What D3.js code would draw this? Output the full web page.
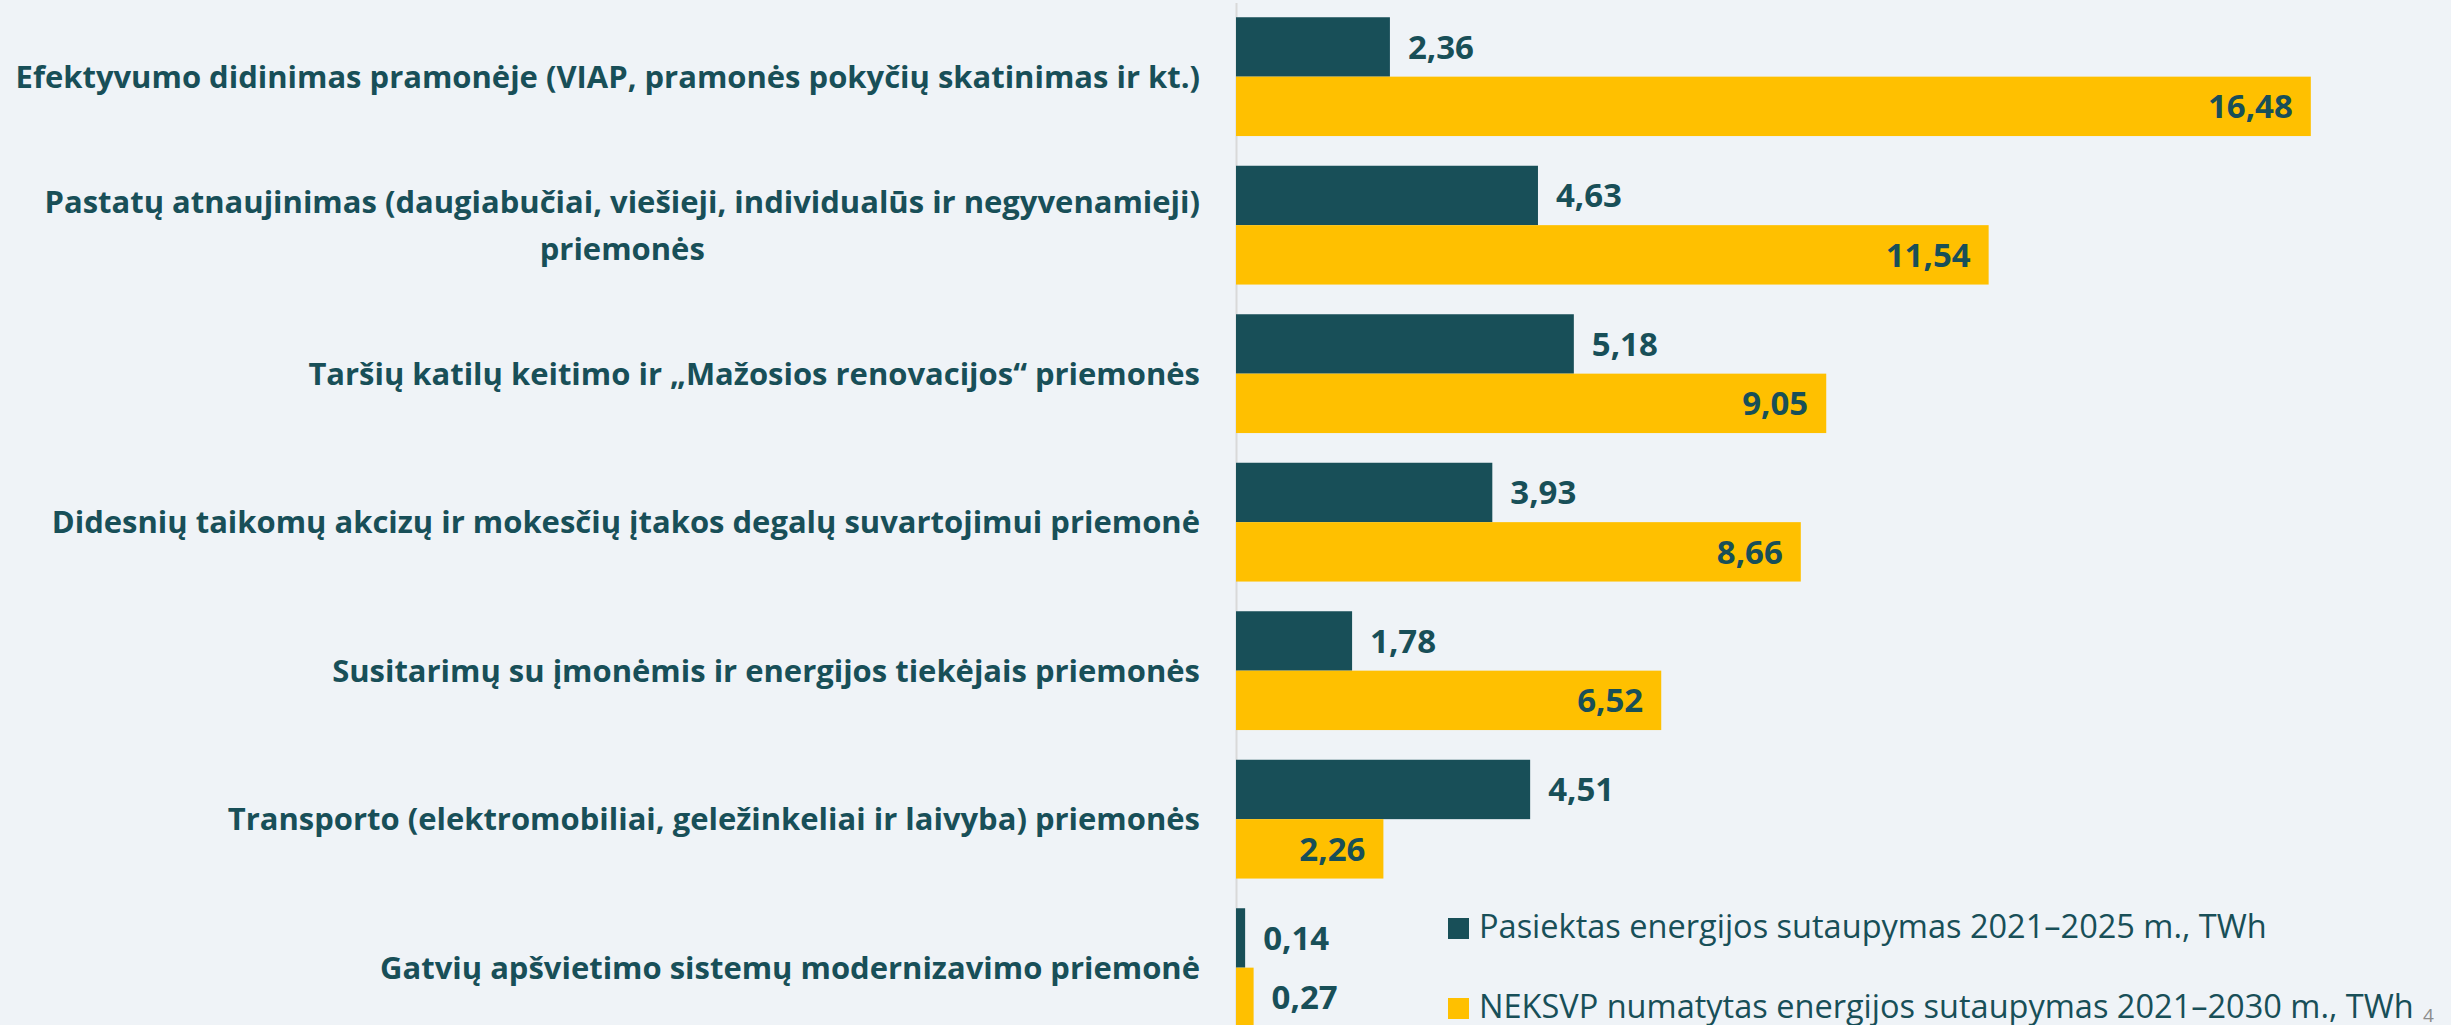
<!DOCTYPE html>
<html lang="lt">
<head>
<meta charset="UTF-8">
<title>Energijos sutaupymas pagal priemones</title>
<script src="https://d3js.org/d3.v7.min.js"></script>
<style>
  body { margin: 0; background: #eff3f7; }
  svg { display: block; }
</style>
</head>
<body>
<svg id="chart" width="2451" height="1025"></svg>
<script>
  // chart data
  const categories = [
    "Efektyvumo didinimas pramonėje (VIAP, pramonės pokyčių skatinimas ir kt.)",
    "Pastatų atnaujinimas (daugiabučiai, viešieji, individualūs ir negyvenamieji)\npriemonės",
    "Taršių katilų keitimo ir „Mažosios renovacijos“ priemonės",
    "Didesnių taikomų akcizų ir mokesčių įtakos degalų suvartojimui priemonė",
    "Susitarimų su įmonėmis ir energijos tiekėjais priemonės",
    "Transporto (elektromobiliai, geležinkeliai ir laivyba) priemonės",
    "Gatvių apšvietimo sistemų modernizavimo priemonė"
  ];
  const achieved = [2.36, 4.63, 5.18, 3.93, 1.78, 4.51, 0.14];
  const planned = [16.48, 11.54, 9.05, 8.66, 6.52, 2.26, 0.27];
  const seriesKeys = ["achieved", "planned"];
  const seriesNames = [
    "Pasiektas energijos sutaupymas 2021–2025 m., TWh",
    "NEKSVP numatytas energijos sutaupymas 2021–2030 m., TWh"
  ];
  const pageNumber = "4";

  const width = 2451, height = 1025;
  const teal = "#184f58", gold = "#ffc000";
  const font = "'Open Sans', 'Noto Sans', sans-serif";
  const colors = d3.scaleOrdinal().domain(seriesKeys).range([teal, gold]);

  const svg = d3.select("#chart");
  svg.append("rect").attr("width", width).attr("height", height).attr("fill", "#eff3f7");

  // fit a font size so a given string reaches a target width
  function fitSize(str, weight, target) {
    const t = svg.append("text").attr("font-family", font).attr("font-weight", weight)
      .attr("font-size", 100).text(str);
    const w = t.node().getComputedTextLength();
    t.remove();
    return 100 * target / w;
  }
  const labelSize = fitSize(categories[0], "bold", 1185);
  const legendSize = fitSize(seriesNames[0], "normal", 788);
  const valueSize = 33;

  const x = d3.scaleLinear().domain([0, 18]).range([1236, 1236 + 18 * 65.22]);
  const y = d3.scaleBand().domain(categories).range([2.4, 1041.9]).paddingInner(0.2).paddingOuter(0.1);
  const ySub = d3.scaleBand().domain(seriesKeys).range([0, y.bandwidth()]);

  const lt = d3.formatLocale({decimal: ",", thousands: " ", grouping: [3], currency: ["", ""]});
  const fmt = lt.format(".2f");

  // category axis line
  svg.append("g")
    .attr("transform", `translate(${x(0)},0)`)
    .call(d3.axisLeft(y).tickSize(0).tickFormat(""))
    .call(g => g.select(".domain").attr("stroke", "#d9d9d9").attr("stroke-width", 2));

  const rows = categories.map((c, i) => ({
    cat: c,
    values: [
      {key: "achieved", v: achieved[i]},
      {key: "planned", v: planned[i]}
    ]
  }));

  const groups = svg.selectAll(".grp").data(rows).enter()
    .append("g").attr("class", "grp")
    .attr("transform", d => `translate(0,${y(d.cat)})`);

  groups.selectAll("rect").data(d => d.values).enter()
    .append("rect")
    .attr("x", x(0))
    .attr("y", d => ySub(d.key))
    .attr("width", d => x(d.v) - x(0))
    .attr("height", ySub.bandwidth())
    .attr("fill", d => colors(d.key));

  // value labels: dark bars outside, yellow bars inside unless too short
  groups.selectAll(".val").data(d => d.values).enter()
    .append("text").attr("class", "val")
    .attr("font-family", font).attr("font-weight", "bold").attr("font-size", valueSize)
    .attr("fill", teal)
    .attr("y", d => ySub(d.key) + ySub.bandwidth() / 2)
    .attr("dy", "0.36em")
    .each(function(d) {
      const inside = d.key === "planned" && x(d.v) - x(0) > 120;
      d3.select(this)
        .attr("x", inside ? x(d.v) - 18 : x(d.v) + 18)
        .attr("text-anchor", inside ? "end" : "start")
        .text(fmt(d.v));
    });

  // category labels, right aligned block, lines centred on each other
  const lineH = labelSize * 1.5;
  groups.each(function(d) {
    const lines = d.cat.split("\n");
    const t = d3.select(this).append("text")
      .attr("font-family", font).attr("font-weight", "bold").attr("font-size", labelSize)
      .attr("fill", teal).attr("text-anchor", "middle");
    lines.forEach((ln, k) => {
      t.append("tspan")
        .attr("y", y.bandwidth() / 2 + (k - (lines.length - 1) / 2) * lineH)
        .attr("dy", "0.36em")
        .text(ln);
    });
    let maxW = 0;
    t.selectAll("tspan").each(function() { maxW = Math.max(maxW, this.getComputedTextLength()); });
    t.selectAll("tspan").attr("x", 1200 - maxW / 2);
  });

  // legend
  const legend = svg.selectAll(".leg").data(seriesKeys).enter()
    .append("g").attr("class", "leg")
    .attr("transform", (d, i) => `translate(1448,${918 + i * 80})`);
  legend.append("rect").attr("width", 21).attr("height", 21).attr("fill", d => colors(d));
  legend.append("text")
    .attr("x", 31).attr("y", 20)
    .attr("font-family", font).attr("font-size", legendSize).attr("fill", teal)
    .text((d, i) => seriesNames[i]);

  svg.append("text")
    .attr("x", 2423).attr("y", 1022)
    .attr("font-family", font).attr("font-size", 19).attr("fill", "#8c8c8c")
    .text(pageNumber);
</script>
</body>
</html>
